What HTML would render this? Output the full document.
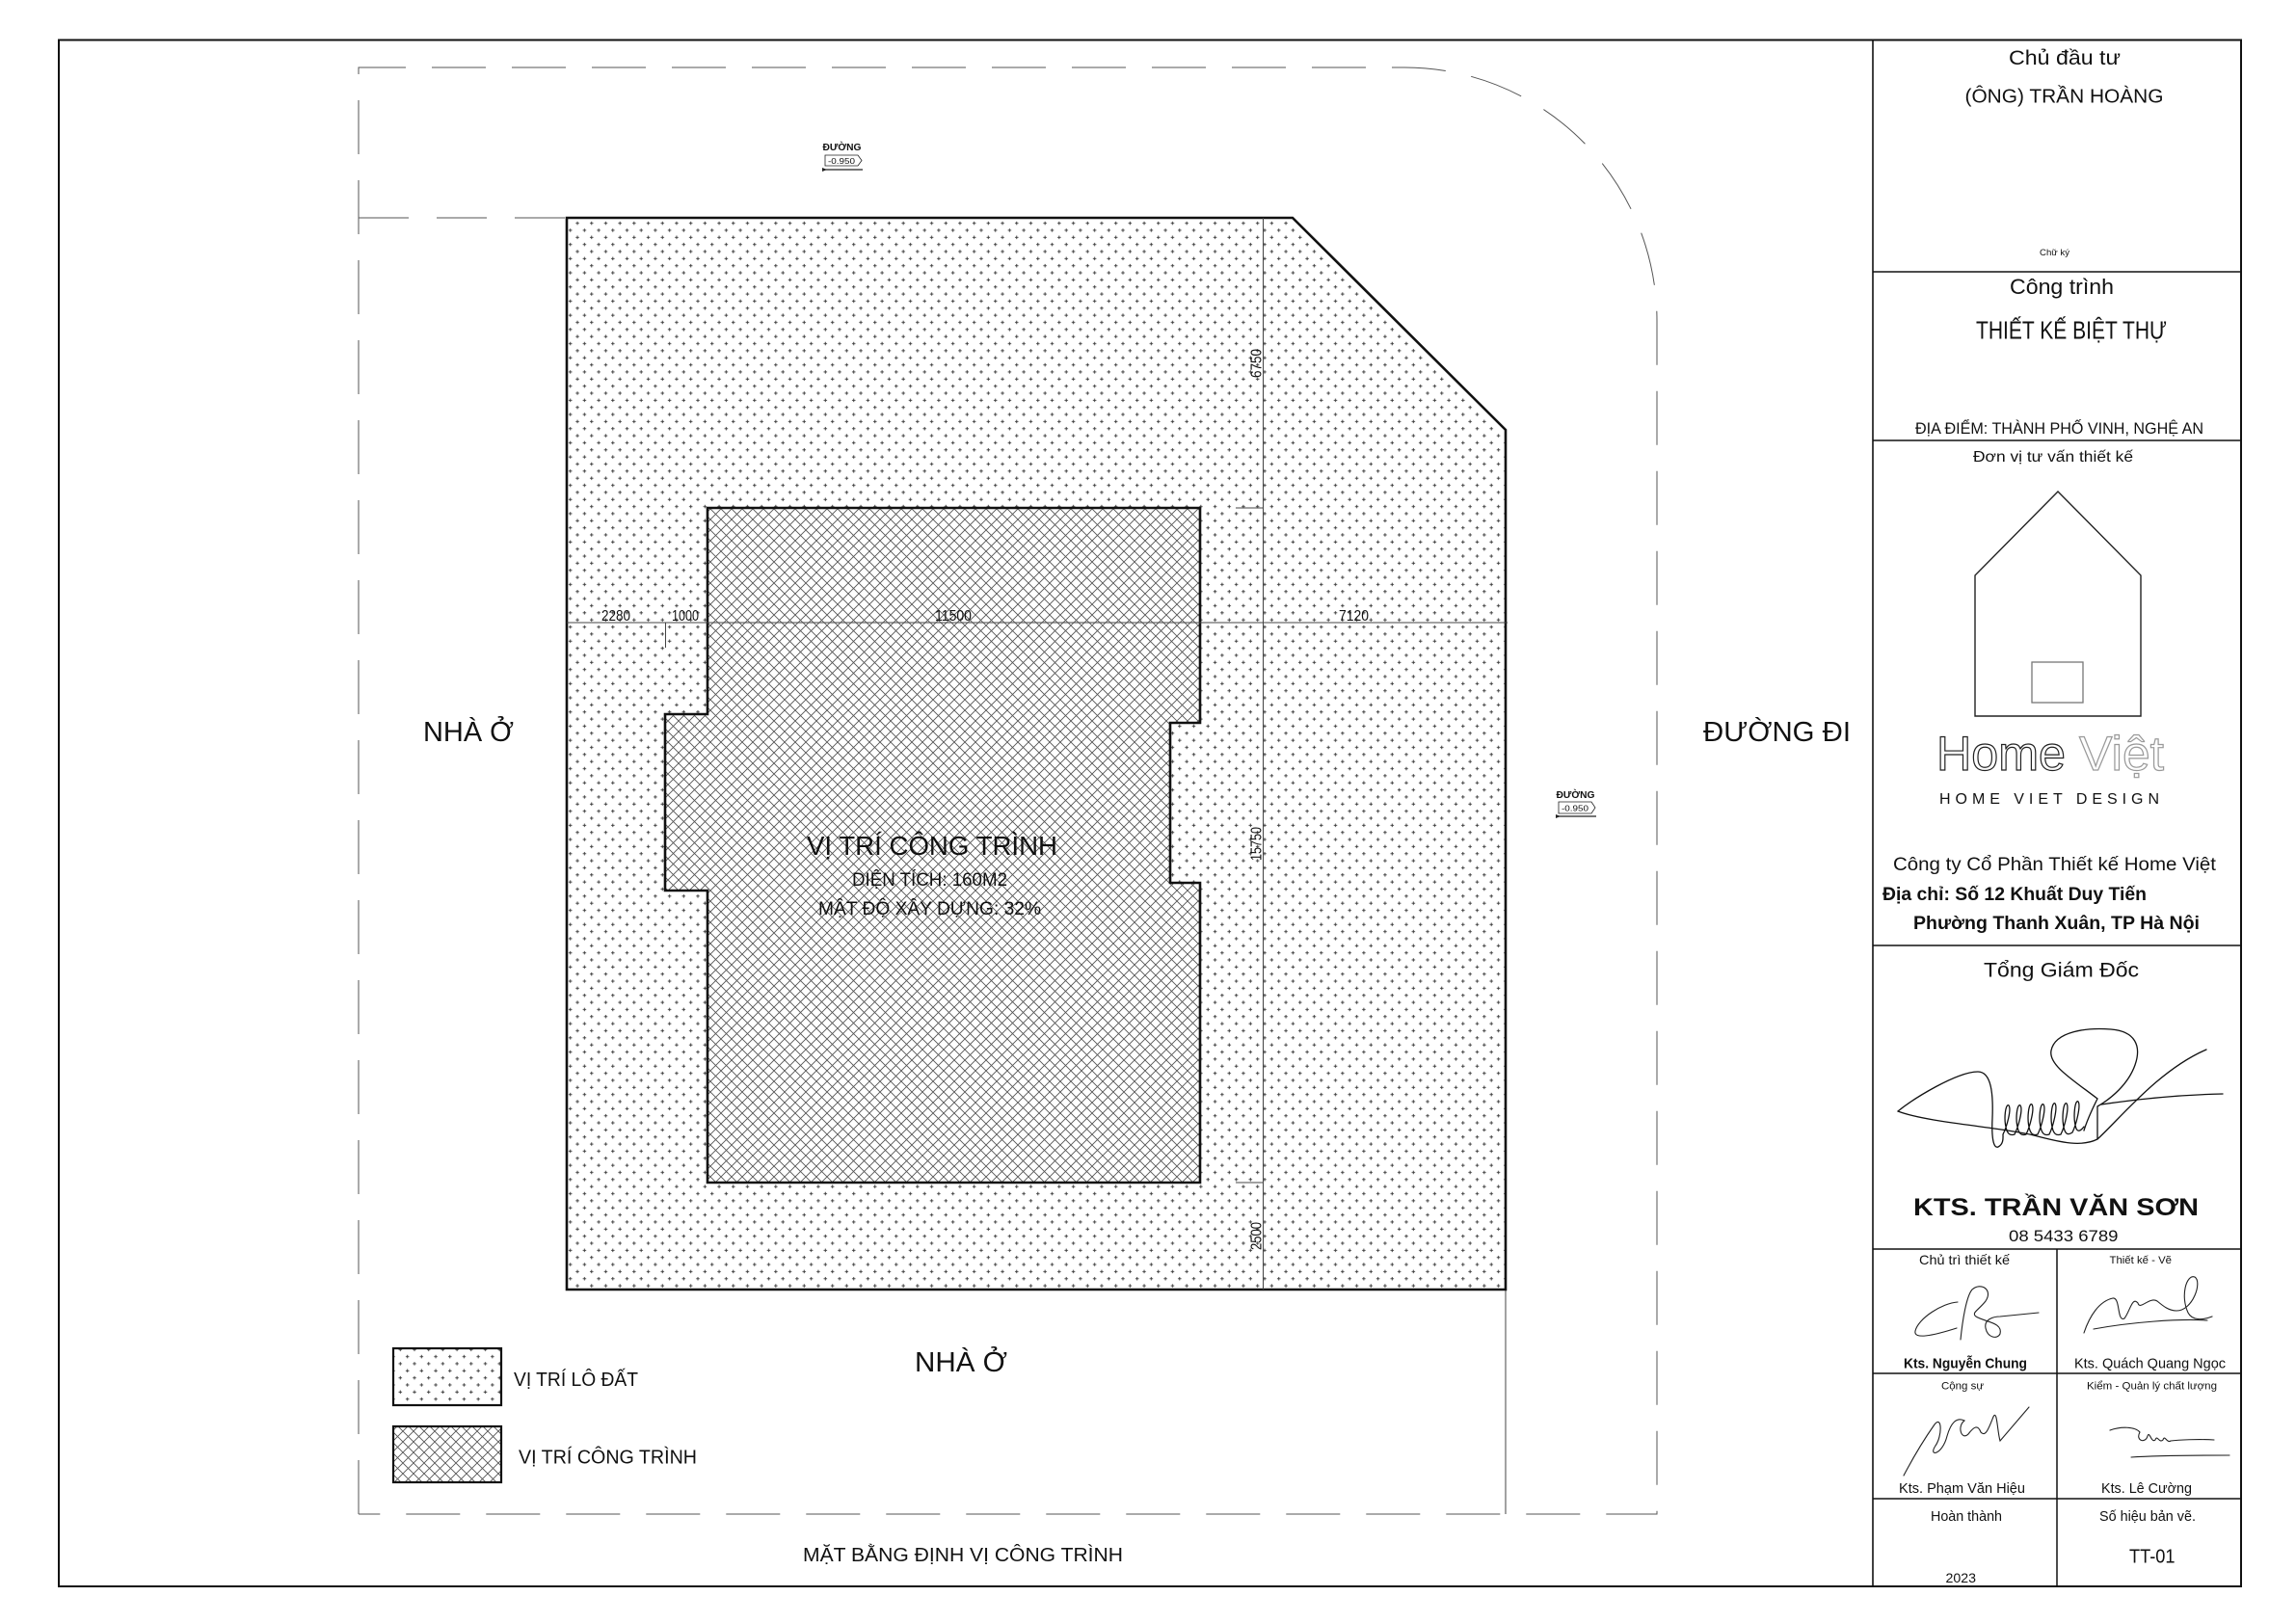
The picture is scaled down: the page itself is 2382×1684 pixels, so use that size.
<!DOCTYPE html>
<html>
<head>
<meta charset="utf-8">
<style>
  html,body{margin:0;padding:0;background:#fff;}
  svg{display:block;}
  text{font-family:"Liberation Sans", "DejaVu Sans", sans-serif; fill:#111;}
</style>
</head>
<body>
<svg width="2382" height="1684" viewBox="0 0 2382 1684" xmlns="http://www.w3.org/2000/svg">
  <defs>
    <pattern id="dots" patternUnits="userSpaceOnUse" width="14.7" height="14.7">
      <path d="M1.9,3.7 H5.5 M3.7,1.9 V5.5 M9.25,11.05 H12.85 M11.05,9.25 V12.85" stroke="#333" stroke-width="0.9" fill="none"/>
    </pattern>
    <pattern id="hatch" patternUnits="userSpaceOnUse" width="11" height="11">
      <path d="M0,0 L11,11 M11,0 L0,11" stroke="#555" stroke-width="0.9" fill="none"/>
    </pattern>
  </defs>

  <rect x="0" y="0" width="2382" height="1684" fill="#fff"/>

  <!-- outer border -->
  <rect x="61" y="41.5" width="2264" height="1604.5" fill="none" stroke="#111" stroke-width="2"/>
  <!-- title block separator -->
  <line x1="1943" y1="41.5" x2="1943" y2="1646" stroke="#111" stroke-width="1.6"/>

  <!-- dashed site boundary -->
  <path d="M372,1571 L372,70 L1457,70 A262,263 0 0 1 1719,333 L1719,1571 L372,1571" fill="none" stroke="#555" stroke-width="1" stroke-dasharray="56 27"/>
  <path d="M372,226 L588,226" fill="none" stroke="#555" stroke-width="1" stroke-dasharray="52 29"/>
  <line x1="1562" y1="1338" x2="1562" y2="1571" stroke="#444" stroke-width="1"/>

  <!-- lot -->
  <polygon points="588,226 1341,226 1562,446 1562,1338 588,1338" fill="#fff"/>
  <polygon points="588,226 1341,226 1562,446 1562,1338 588,1338" fill="url(#dots)" stroke="#111" stroke-width="2.6"/>

  <!-- building -->
  <polygon points="734,527 1245,527 1245,750 1214,750 1214,916 1245,916 1245,1227 734,1227 734,924 690,924 690,741 734,741" fill="#fff"/>
  <polygon points="734,527 1245,527 1245,750 1214,750 1214,916 1245,916 1245,1227 734,1227 734,924 690,924 690,741 734,741" fill="url(#hatch)" stroke="#111" stroke-width="2.6"/>

  <!-- dimension lines -->
  <line x1="588" y1="646" x2="1564" y2="646" stroke="#444" stroke-width="1"/>
  <line x1="690.5" y1="646" x2="690.5" y2="672" stroke="#444" stroke-width="1"/>
  <line x1="1310.5" y1="226" x2="1310.5" y2="1338" stroke="#444" stroke-width="1"/>
  <line x1="1282" y1="527" x2="1310.5" y2="527" stroke="#444" stroke-width="1"/>
  <line x1="1282" y1="1227" x2="1310.5" y2="1227" stroke="#444" stroke-width="1"/>

  <text x="624" y="644" font-size="16" textLength="30" lengthAdjust="spacingAndGlyphs">2280</text>
  <text x="697" y="644" font-size="16" textLength="28" lengthAdjust="spacingAndGlyphs">1000</text>
  <text x="970" y="644" font-size="16" textLength="38" lengthAdjust="spacingAndGlyphs">11500</text>
  <text x="1389" y="644" font-size="16" textLength="31" lengthAdjust="spacingAndGlyphs">7120</text>
  <text transform="translate(1308.5,392) rotate(-90)" font-size="16" textLength="30" lengthAdjust="spacingAndGlyphs">6750</text>
  <text transform="translate(1308.5,893) rotate(-90)" font-size="16" textLength="35" lengthAdjust="spacingAndGlyphs">15750</text>
  <text transform="translate(1308.5,1297) rotate(-90)" font-size="16" textLength="29" lengthAdjust="spacingAndGlyphs">2500</text>

  <!-- level markers -->
  <g>
    <text x="853.5" y="156" font-size="10" font-weight="bold" textLength="40" lengthAdjust="spacingAndGlyphs">ĐƯỜNG</text>
    <path d="M856,161 L890,161 L894,166.5 L890,172 L856,172 Z" fill="none" stroke="#222" stroke-width="0.8"/>
    <text x="859" y="170" font-size="8" textLength="28" lengthAdjust="spacingAndGlyphs">-0.950</text>
    <line x1="853" y1="176" x2="895" y2="176" stroke="#222" stroke-width="1.2"/>
    <path d="M853,174 L858,176 L853,178 Z" fill="#222"/>
  </g>
  <g>
    <text x="1614.5" y="828" font-size="10" font-weight="bold" textLength="40" lengthAdjust="spacingAndGlyphs">ĐƯỜNG</text>
    <path d="M1617,832 L1651,832 L1655,838 L1651,844 L1617,844 Z" fill="none" stroke="#222" stroke-width="0.8"/>
    <text x="1620" y="841.5" font-size="8" textLength="28" lengthAdjust="spacingAndGlyphs">-0.950</text>
    <line x1="1614" y1="847" x2="1656" y2="847" stroke="#222" stroke-width="1.2"/>
    <path d="M1614,845 L1619,847 L1614,849 Z" fill="#222"/>
  </g>

  <!-- building labels -->
  <text x="837" y="887" font-size="28" textLength="260" lengthAdjust="spacingAndGlyphs">VỊ TRÍ CÔNG TRÌNH</text>
  <text x="884" y="919" font-size="19" textLength="161" lengthAdjust="spacingAndGlyphs">DIỆN TÍCH: 160M2</text>
  <text x="849" y="949" font-size="19" textLength="231" lengthAdjust="spacingAndGlyphs">MẬT ĐỘ XÂY DỰNG: 32%</text>

  <!-- surroundings -->
  <text x="439" y="769" font-size="29" textLength="94" lengthAdjust="spacingAndGlyphs">NHÀ Ở</text>
  <text x="1767" y="769" font-size="29" textLength="153" lengthAdjust="spacingAndGlyphs">ĐƯỜNG ĐI</text>
  <text x="949" y="1423" font-size="29" textLength="96" lengthAdjust="spacingAndGlyphs">NHÀ Ở</text>

  <!-- legend -->
  <rect x="408" y="1399" width="112" height="59" fill="url(#dots)" stroke="#111" stroke-width="2.2"/>
  <rect x="408" y="1480" width="112" height="58" fill="url(#hatch)" stroke="#111" stroke-width="2.2"/>
  <text x="533" y="1438" font-size="20" textLength="129" lengthAdjust="spacingAndGlyphs">VỊ TRÍ LÔ ĐẤT</text>
  <text x="538" y="1518.5" font-size="20" textLength="185" lengthAdjust="spacingAndGlyphs">VỊ TRÍ CÔNG TRÌNH</text>

  <text x="833" y="1620" font-size="20" textLength="332" lengthAdjust="spacingAndGlyphs">MẶT BẰNG ĐỊNH VỊ CÔNG TRÌNH</text>

  <!-- ================= TITLE BLOCK ================= -->
  <g stroke="#111" stroke-width="1.5">
    <line x1="1943" y1="282" x2="2325" y2="282"/>
    <line x1="1943" y1="457" x2="2325" y2="457"/>
    <line x1="1943" y1="981" x2="2325" y2="981"/>
    <line x1="1943" y1="1296" x2="2325" y2="1296"/>
    <line x1="1943" y1="1425" x2="2325" y2="1425"/>
    <line x1="1943" y1="1555" x2="2325" y2="1555"/>
    <line x1="2134" y1="1296" x2="2134" y2="1646"/>
  </g>

  <text x="2084" y="67" font-size="21" textLength="116" lengthAdjust="spacingAndGlyphs">Chủ đầu tư</text>
  <text x="2038.5" y="106.7" font-size="20" textLength="206" lengthAdjust="spacingAndGlyphs">(ÔNG) TRẦN HOÀNG</text>
  <text x="2116" y="265" font-size="9" textLength="31" lengthAdjust="spacingAndGlyphs">Chữ ký</text>

  <text x="2085" y="305" font-size="22" textLength="108" lengthAdjust="spacingAndGlyphs">Công trình</text>
  <text x="2050" y="351.5" font-size="26" textLength="198" lengthAdjust="spacingAndGlyphs">THIẾT KẾ BIỆT THỰ</text>
  <text x="1987" y="450" font-size="17" textLength="299" lengthAdjust="spacingAndGlyphs">ĐỊA ĐIỂM: THÀNH PHỐ VINH, NGHỆ AN</text>

  <text x="2047" y="479" font-size="16" textLength="166" lengthAdjust="spacingAndGlyphs">Đơn vị tư vấn thiết kế</text>

  <!-- logo house -->
  <polygon points="2049,743 2049,597 2135,510 2221,597 2221,743" fill="none" stroke="#222" stroke-width="1.4"/>
  <rect x="2108" y="687" width="53" height="42" fill="none" stroke="#777" stroke-width="1.3"/>
  <text x="2009" y="799" font-size="50" textLength="134" lengthAdjust="spacingAndGlyphs" style="fill:none;stroke:#222;stroke-width:1.2">Home</text>
  <text x="2157" y="799" font-size="50" textLength="88" lengthAdjust="spacingAndGlyphs" style="fill:none;stroke:#999;stroke-width:1.2">Việt</text>
  <text x="2012" y="834" font-size="16" textLength="228" lengthAdjust="spacing">HOME VIET DESIGN</text>

  <text x="1964" y="903" font-size="19.5" textLength="335" lengthAdjust="spacingAndGlyphs">Công ty Cổ Phần Thiết kế Home Việt</text>
  <text x="1953" y="934" font-size="19.5" font-weight="bold" textLength="274" lengthAdjust="spacingAndGlyphs">Địa chỉ: Số 12 Khuất Duy Tiến</text>
  <text x="1985" y="964" font-size="19.5" font-weight="bold" textLength="297" lengthAdjust="spacingAndGlyphs">Phường Thanh Xuân, TP Hà Nội</text>

  <text x="2058" y="1013.7" font-size="21" textLength="161" lengthAdjust="spacingAndGlyphs">Tổng Giám Đốc</text>

  <!-- main signature -->
  <g fill="none" stroke="#111" stroke-width="1.3" stroke-linecap="round">
    <path d="M1969,1153 C1985,1140 2030,1112 2052,1112 C2066,1112 2068,1135 2067,1160 C2066,1180 2068,1192 2073,1190 C2079,1187 2078,1180 2078,1177
             c4,-8 9,-26 6,-30 c-3,-3 -6,14 -2,26 c2,5 5,5 8,4
             c4,-8 9,-26 6,-30 c-3,-3 -6,14 -2,26 c2,5 5,5 8,4
             c4,-8 9,-27 6,-31 c-3,-3 -6,15 -2,27 c2,5 5,5 8,4
             c4,-8 9,-27 6,-31 c-3,-3 -6,15 -2,27 c2,5 5,5 8,4
             c4,-8 9,-28 6,-32 c-3,-3 -6,16 -2,28 c2,5 5,5 8,4
             c4,-8 9,-28 6,-32 c-3,-3 -6,16 -2,28 c2,5 5,4 8,2
             c4,-8 9,-28 6,-32 c-3,-3 -6,16 -2,28 c2,4 5,2 8,-2"/>
    <path d="M2162,1173 C2166,1160 2172,1148 2176,1140 C2150,1120 2125,1105 2128,1090 C2132,1070 2165,1066 2190,1068 C2215,1070 2222,1085 2215,1105 C2208,1125 2190,1140 2176,1148 L2176,1182"/>
    <path d="M1969,1153 C2000,1165 2080,1170 2110,1178 C2140,1186 2160,1190 2176,1182 C2200,1160 2240,1110 2289,1089"/>
    <path d="M2180,1146 C2220,1140 2260,1136 2306,1135"/>
  </g>

  <text x="1985" y="1261" font-size="25" font-weight="bold" textLength="296" lengthAdjust="spacingAndGlyphs">KTS. TRẦN VĂN SƠN</text>
  <text x="2084" y="1288" font-size="17" textLength="113.5" lengthAdjust="spacingAndGlyphs">08 5433 6789</text>

  <text x="1991" y="1312" font-size="14" textLength="94" lengthAdjust="spacingAndGlyphs">Chủ trì thiết kế</text>
  <text x="2188.5" y="1311" font-size="11" textLength="64.5" lengthAdjust="spacingAndGlyphs">Thiết kế - Vẽ</text>

  <!-- small signatures -->
  <g fill="none" stroke="#222" stroke-width="1.1" stroke-linecap="round">
    <!-- Chung -->
    <path d="M2031,1351 C2015,1352 1990,1368 1987,1381 C1985,1390 2005,1386 2030,1378"/>
    <path d="M2034,1390 C2036,1370 2040,1345 2046,1338 C2055,1330 2068,1338 2060,1350 C2052,1360 2045,1362 2050,1366 C2060,1372 2078,1372 2075,1384 C2072,1390 2062,1388 2060,1378 C2058,1368 2070,1366 2075,1366 L2115,1362"/>
    <!-- Ngoc -->
    <path d="M2162,1383 C2168,1365 2178,1350 2192,1347 C2200,1346 2196,1372 2204,1368 C2210,1360 2212,1345 2218,1352 C2220,1360 2230,1345 2238,1350 C2244,1355 2250,1360 2258,1360 C2275,1360 2285,1330 2277,1325 C2268,1322 2262,1345 2270,1362 C2274,1370 2285,1370 2295,1366"/>
    <path d="M2172,1379 C2210,1372 2260,1368 2290,1370"/>
    <!-- Hieu -->
    <path d="M1975,1531 C1985,1512 1995,1495 2007,1478 C2015,1468 2015,1490 2008,1500 C2000,1512 2015,1510 2020,1490 C2024,1476 2030,1470 2038,1474 C2030,1480 2035,1495 2042,1488 C2048,1480 2052,1478 2055,1486 C2060,1492 2064,1480 2068,1470 C2072,1462 2072,1485 2075,1495 L2105,1460"/>
    <!-- Cuong -->
    <path d="M2189,1484 C2200,1480 2215,1480 2220,1486 C2215,1495 2226,1498 2228,1490 C2230,1484 2232,1498 2236,1494 C2238,1488 2240,1498 2244,1494 C2246,1488 2248,1498 2252,1495 C2260,1494 2280,1493 2297,1494"/>
    <path d="M2211,1512 C2240,1510 2280,1510 2313,1510"/>
  </g>

  <text x="1975" y="1419.5" font-size="15" font-weight="bold" textLength="128" lengthAdjust="spacingAndGlyphs">Kts. Nguyễn Chung</text>
  <text x="2152" y="1419.5" font-size="15" textLength="157" lengthAdjust="spacingAndGlyphs">Kts. Quách Quang Ngọc</text>

  <text x="2014" y="1441.5" font-size="11" textLength="44" lengthAdjust="spacingAndGlyphs">Cộng sự</text>
  <text x="2165" y="1441.5" font-size="11" textLength="135" lengthAdjust="spacingAndGlyphs">Kiểm - Quản lý chất lượng</text>

  <text x="1970" y="1549" font-size="15" textLength="131" lengthAdjust="spacingAndGlyphs">Kts. Phạm Văn Hiệu</text>
  <text x="2180" y="1549" font-size="15" textLength="94" lengthAdjust="spacingAndGlyphs">Kts. Lê Cường</text>

  <text x="2003" y="1578" font-size="15" textLength="74" lengthAdjust="spacingAndGlyphs">Hoàn thành</text>
  <text x="2178" y="1578" font-size="15" textLength="100" lengthAdjust="spacingAndGlyphs">Số hiệu bản vẽ.</text>
  <text x="2209" y="1621.6" font-size="20" textLength="47.5" lengthAdjust="spacingAndGlyphs">TT-01</text>
  <text x="2018.5" y="1642" font-size="14" textLength="31.5" lengthAdjust="spacingAndGlyphs">2023</text>
</svg>
</body>
</html>
